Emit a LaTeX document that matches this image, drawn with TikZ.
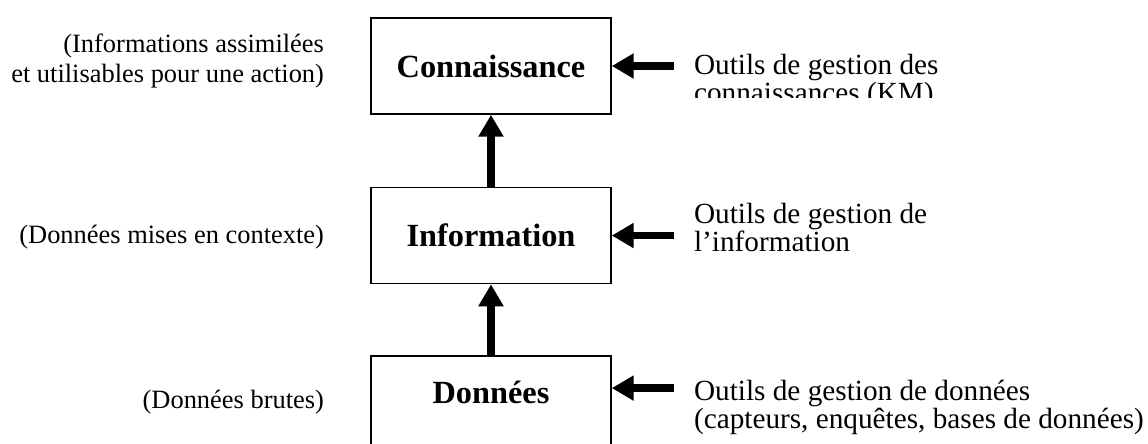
\documentclass[tikz,border=0pt]{standalone}
\usepackage{fontspec}
\setmainfont{Liberation Serif}
\usetikzlibrary{arrows.meta, positioning}

\begin{document}
\begin{tikzpicture}[
    node distance=1.8cm,
    level/.style={rectangle, draw, line width=1.1pt, minimum width=6cm, minimum height=2.4cm, font=\fontsize{23}{27}\selectfont\bfseries},
    note/.style={inner sep=0pt, align=right, font=\fontsize{18.8}{21.3}\selectfont},
    tool/.style={inner sep=0pt, align=left, font=\fontsize{20.8}{17.4}\selectfont},
    arrow/.style={-{Triangle[length=15.6pt, width=17pt]}, line width=5.5pt}
]

% Page frame
\useasboundingbox (0,0) rectangle (28.7,-11.075);
\clip (0,0) rectangle (28.7,-11.075);

% Levels
\node[level] (conn) at (12.275,-1.65) {Connaissance};
\node[level, below=of conn] (info) {Information};
\node[level, below=1.775cm of info, text depth=0.6cm] (data) {Données};

% Arrows between levels
\draw[arrow] (info) -- (conn);
\draw[arrow] (data) -- (info);

% Descriptions on the left
\node[note, left=1.15cm of conn.north west, anchor=north east, yshift=-0.4cm] (connnote) {(Informations assimilées\\et utilisables pour une action)};
\node[note, left=1.15cm of info, anchor=base east, yshift=-0.2cm] (infonote) {(Données mises en contexte)};
\node[note, left=1.15cm of data, anchor=base east, yshift=-0.1cm] (datanote) {(Données brutes)};

% Tools on the right
\coordinate[right=1.55cm of conn.east] (connsrc);
\coordinate[right=1.55cm of info.east] (infosrc);
\coordinate[right=1.55cm of data.east, yshift=0.4cm] (datasrc);

\draw[arrow] (connsrc) -- (connsrc -| conn.east);
\draw[arrow] (infosrc) -- (infosrc -| info.east);
\draw[arrow] (datasrc) -- (datasrc -| data.east);

\begin{scope}
  \clip ([xshift=-0.1cm, yshift=1cm]connsrc) rectangle ([xshift=12cm, yshift=-0.79cm]connsrc);
  \node[tool, right=0.5cm of connsrc, anchor=north west, yshift=0.3cm] (conntool) {Outils de gestion des\\connaissances (KM)};
\end{scope}
\node[tool, right=0.5cm of infosrc, anchor=north west, yshift=0.825cm] (infotool) {Outils de gestion de\\l’information};
\node[tool, right=0.5cm of datasrc, anchor=north west, yshift=0.2cm] (datatool) {Outils de gestion de données\\(capteurs, enquêtes, bases de données)};

\end{tikzpicture}
\end{document}
